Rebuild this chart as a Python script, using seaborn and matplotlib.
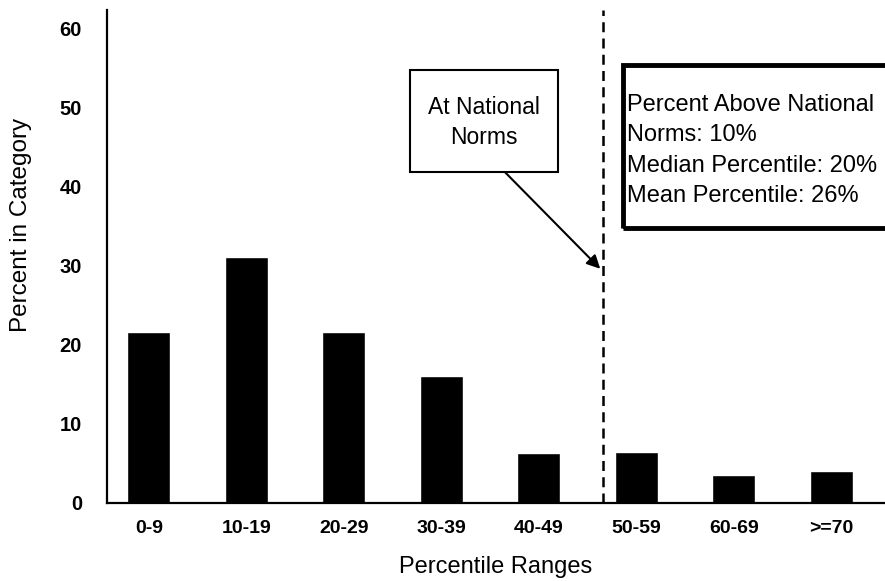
import matplotlib
matplotlib.use("Agg")
import matplotlib.pyplot as plt
import seaborn as sns
import pandas as pd
from matplotlib.patches import Rectangle

# data
ranges = ['0-9', '10-19', '20-29', '30-39', '40-49', '50-59', '60-69', '>=70']
percent = [21.6, 31.2, 21.6, 16.1, 6.3, 6.5, 3.6, 4.0]
norm_line = 4.66  # position of the "national norms" cut between 40-49 and 50-59
stats_lines = ['Percent Above National', 'Norms: 10%',
               'Median Percentile: 20%', 'Mean Percentile: 26%']


def main():
    sns.set_style('white')
    plt.rcParams['font.family'] = ['Liberation Sans', 'DejaVu Sans']
    plt.rcParams['text.color'] = 'black'
    plt.rcParams['axes.labelcolor'] = 'black'
    plt.rcParams['xtick.color'] = 'black'
    plt.rcParams['ytick.color'] = 'black'

    df = pd.DataFrame({'range': ranges, 'pct': percent})

    fig = plt.figure(figsize=(8.85, 5.81), dpi=100)
    ax = fig.add_axes([107 / 885, 1 - 503 / 581, 778 / 885, 493 / 581])

    sns.barplot(data=df, x='range', y='pct', color='black', saturation=1,
                width=0.44, ax=ax)

    ax.set_xlim(-0.43, 7.55)
    ax.set_ylim(0, 62.4)
    ax.set_yticks([0, 10, 20, 30, 40, 50, 60])
    for s in ['top', 'right']:
        ax.spines[s].set_visible(False)
    for s in ['left', 'bottom']:
        ax.spines[s].set_linewidth(1.6)
        ax.spines[s].set_color('black')

    ax.tick_params(axis='y', length=0, pad=18, labelsize=14.5, labelcolor='black')
    ax.tick_params(axis='x', length=0, pad=12, labelsize=14, labelcolor='black')
    for lab in ax.get_xticklabels() + ax.get_yticklabels():
        lab.set_fontweight('bold')

    ax.set_xlabel('Percentile Ranges', fontsize=17, labelpad=14)
    ax.set_ylabel('Percent in Category', fontsize=17.5)
    ax.yaxis.set_label_coords(-0.096, 0.564)

    # national norms cut
    ax.axvline(norm_line, color='black', lw=1.8, ls=(0, (4, 2.5)))

    # "At National Norms" callout
    ax.add_patch(Rectangle((0.3895, 0.671), 0.190, 0.207, transform=ax.transAxes,
                           fill=False, lw=1.5, ec='black', clip_on=False))
    ax.text(0.4846, 0.771, 'At National\nNorms', transform=ax.transAxes,
            ha='center', va='center', fontsize=16.5, linespacing=1.4)
    ax.annotate('', xy=(0.634, 0.475), xytext=(0.5116, 0.671),
                xycoords='axes fraction', textcoords='axes fraction',
                arrowprops=dict(arrowstyle='-|>', color='black', lw=1.5,
                                mutation_scale=20, shrinkA=0, shrinkB=0))

    # summary box (runs off the right edge)
    ax.add_patch(Rectangle((0.663, 0.558), 0.4, 0.331, transform=ax.transAxes,
                           fill=False, lw=3.5, ec='black', clip_on=False))
    ax.text(0.668, 0.830, '\n'.join(stats_lines), transform=ax.transAxes,
            ha='left', va='top', fontsize=17, linespacing=1.5)

    fig.savefig('out.png', dpi=100)


if __name__ == "__main__":
    main()
